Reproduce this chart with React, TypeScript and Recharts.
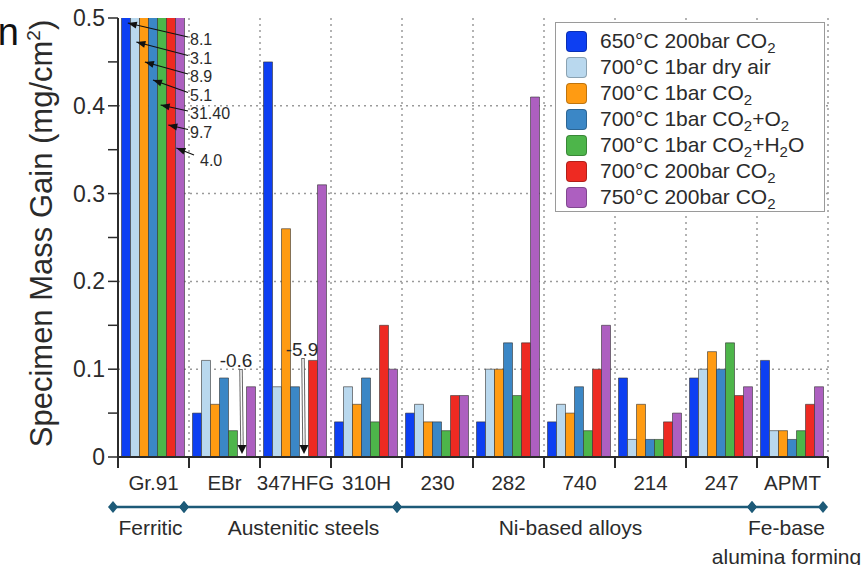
import React from "react";
import { BarChart, Bar, XAxis, YAxis, CartesianGrid, Legend } from "recharts";

const CATEGORIES = ["Gr.91", "EBr", "347HFG", "310H", "230", "282", "740", "214", "247", "APMT"];

const S650_200BAR_CO2 = [8.1, 0.05, 0.45, 0.04, 0.05, 0.04, 0.04, 0.09, 0.09, 0.11];
const S700_1BAR_AIR = [3.1, 0.11, 0.08, 0.08, 0.06, 0.1, 0.06, 0.02, 0.1, 0.03];
const S700_1BAR_CO2 = [8.9, 0.06, 0.26, 0.06, 0.04, 0.1, 0.05, 0.06, 0.12, 0.03];
const S700_1BAR_CO2_O2 = [5.1, 0.09, 0.08, 0.09, 0.04, 0.13, 0.08, 0.02, 0.1, 0.02];
const S700_1BAR_CO2_H2O = [31.4, 0.03, -5.9, 0.04, 0.03, 0.07, 0.03, 0.02, 0.13, 0.03];
const S700_200BAR_CO2 = [9.7, -0.6, 0.11, 0.15, 0.07, 0.13, 0.1, 0.04, 0.07, 0.06];
const S750_200BAR_CO2 = [4.0, 0.08, 0.31, 0.1, 0.07, 0.41, 0.15, 0.05, 0.08, 0.08];

// off-scale Gr.91 values as printed next to the arrows
const GR91_TEXT = ["8.1", "3.1", "8.9", "5.1", "31.40", "9.7", "4.0"];

const Y_TICKS = [0, 0.05, 0.1, 0.15, 0.2, 0.25, 0.3, 0.35, 0.4, 0.45, 0.5];
const Y_GRID = [0.1, 0.2, 0.3, 0.4];
const Y_MAX = 0.5;

const SERIES = [
  { key: "a", name: "650°C 200bar CO₂", color: "#0d3ff2", values: S650_200BAR_CO2 },
  { key: "b", name: "700°C 1bar dry air", color: "#b9d8ee", values: S700_1BAR_AIR },
  { key: "c", name: "700°C 1bar CO₂", color: "#ff9b12", values: S700_1BAR_CO2 },
  { key: "d", name: "700°C 1bar CO₂+O₂", color: "#3b87c6", values: S700_1BAR_CO2_O2 },
  { key: "e", name: "700°C 1bar CO₂+H₂O", color: "#4db54a", values: S700_1BAR_CO2_H2O },
  { key: "f", name: "700°C 200bar CO₂", color: "#ee2a22", values: S700_200BAR_CO2 },
  { key: "g", name: "750°C 200bar CO₂", color: "#ad5fc0", values: S750_200BAR_CO2 },
];

const GROUPS = [
  { lines: ["Ferritic"], from: 0, to: 1, dx: 2 },
  { lines: ["Austenitic steels"], from: 1, to: 4, dx: 13 },
  { lines: ["Ni-based alloys"], from: 4, to: 9, dx: -4 },
  { lines: ["Fe-base", "alumina forming"], from: 9, to: 10, dx: -1 },
];

const data = CATEGORIES.map((name, i) => {
  const row: Record<string, string | number> = { name };
  SERIES.forEach((s) => {
    row[s.key] = s.values[i];
  });
  return row;
});

const W = 862;
const H = 565;
const PLOT_LEFT = 118;
const PLOT_TOP = 18;
const PLOT_RIGHT = 828;
const PLOT_BOTTOM = 457;
const Y_AXIS_W = 60;
const X_AXIS_H = 40;
const BAND = (PLOT_RIGHT - PLOT_LEFT) / CATEGORIES.length;
const FONT = '"Liberation Sans", Arial, Helvetica, sans-serif';
const INK = "#2b2b2b";

// annotation layout for the Gr.91 arrows (tip heights, text rows)
const GR91_TIP_Y = [23, 42, 62, 80, 105, 125, 148];
const GR91_TEXT_Y = [39, 57.5, 76, 94.5, 113, 131.5, 160];
const GR91_TIP_DX = [0.2, 0.15, 0.1, 0, -0.15, -0.3, -0.4];
// negative (off-scale) values
const NEG_LAYOUT: Record<number, { dx: number; textY: number }> = {
  5: { dx: -6, textY: 360 },
  4: { dx: -2, textY: 349 },
};

const arrowHead = (x1: number, y1: number, x2: number, y2: number, len = 9, half = 3.5) => {
  const a = Math.atan2(y2 - y1, x2 - x1);
  const bx = x2 - len * Math.cos(a);
  const by = y2 - len * Math.sin(a);
  const px = -Math.sin(a) * half;
  const py = Math.cos(a) * half;
  return `${x2},${y2} ${bx + px},${by + py} ${bx - px},${by - py}`;
};

const renderSub = (text: string) =>
  text.split(/(₂)/).map((part, i) =>
    part === "₂" ? (
      <sub key={i} style={{ fontSize: 15, verticalAlign: -5, lineHeight: 0 }}>
        2
      </sub>
    ) : (
      <React.Fragment key={i}>{part}</React.Fragment>
    )
  );

const makeLabel = (si: number) => (props: any) => {
  const vb = props.viewBox || props;
  const x = Number(vb.x ?? props.x);
  const w = Number(vb.width ?? props.width);
  const value = Number(props.value);
  if (!Number.isFinite(x) || !Number.isFinite(w)) return null;
  const cx = x + w / 2;
  if (x < PLOT_LEFT + BAND && value > Y_MAX) {
    const tipX = cx + GR91_TIP_DX[si] * w;
    const tipY = GR91_TIP_Y[si];
    const last = si === SERIES.length - 1;
    const textX = last ? 200 : 190;
    const textY = GR91_TEXT_Y[si];
    const tailX = last ? 194 : 188;
    const tailY = last ? textY - 5 : textY - 2;
    return (
      <g>
        <line x1={tailX} y1={tailY} x2={tipX} y2={tipY} stroke="#111" strokeWidth={1.2} />
        <polygon points={arrowHead(tailX, tailY, tipX, tipY)} fill="#111" />
        <text x={textX} y={textY + 6} fontSize={16} fill={INK} fontFamily={FONT}>
          {GR91_TEXT[si]}
        </text>
      </g>
    );
  }
  if (value < 0 && NEG_LAYOUT[si]) {
    const { dx, textY } = NEG_LAYOUT[si];
    const tailY = textY + 9;
    const tipY = PLOT_BOTTOM - 3;
    return (
      <g>
        <text x={cx + dx} y={textY + 7} textAnchor="middle" fontSize={19} fill={INK} fontFamily={FONT}>
          {String(value)}
        </text>
        <line x1={cx - 1} y1={tailY} x2={cx} y2={tipY - 6} stroke="#666" strokeWidth={3.5} />
        <line x1={cx - 1} y1={tailY + 1} x2={cx} y2={tipY - 7} stroke="#fff" strokeWidth={1.5} />
        <polygon points={arrowHead(cx, tailY, cx, tipY, 9, 4.5)} fill="#111" />
      </g>
    );
  }
  return null;
};

const XTick = (props: any) => {
  const { x, payload, index } = props;
  const cx = Number(x);
  const left = cx - BAND / 2;
  return (
    <g>
      <line x1={left} x2={left} y1={PLOT_BOTTOM} y2={PLOT_BOTTOM + 11} stroke={INK} strokeWidth={2} />
      {index === CATEGORIES.length - 1 && (
        <line x1={left + BAND} x2={left + BAND} y1={PLOT_BOTTOM} y2={PLOT_BOTTOM + 11} stroke={INK} strokeWidth={2} />
      )}
      <text x={cx} y={PLOT_BOTTOM + 33} textAnchor="middle" fontSize={20.5} fill={INK} fontFamily={FONT}>
        {payload.value}
      </text>
    </g>
  );
};

const YTick = (props: any) => {
  const { x, y, payload } = props;
  const v = Number(payload.value);
  const major = Math.abs(v * 10 - Math.round(v * 10)) < 1e-6;
  if (!major) return <g />;
  return (
    <text x={x} y={Number(y) + 8} textAnchor="end" fontSize={23} fill={INK} fontFamily={FONT}>
      {v === 0 ? "0" : v.toFixed(1)}
    </text>
  );
};

const LegendBox = () => (
  <div
    style={{
      width: 270,
      height: 190,
      boxSizing: "border-box",
      border: "1.5px solid #9a9a9a",
      background: "#fff",
      padding: "5px 0 0 10px",
      fontFamily: FONT,
      fontSize: 21,
      color: INK,
    }}
  >
    {SERIES.map((s) => (
      <div key={s.key} style={{ display: "flex", alignItems: "center", height: 26, whiteSpace: "nowrap" }}>
        <span
          style={{
            display: "inline-block",
            width: 21,
            height: 21,
            borderRadius: 4,
            background: s.color,
            border: "1px solid rgba(0,0,0,0.25)",
            boxSizing: "border-box",
            marginRight: 13,
          }}
        />
        <span>{renderSub(s.name)}</span>
      </div>
    ))}
  </div>
);

export default function App() {
  return (
    <div style={{ position: "absolute", left: 0, top: 0, width: W, height: H, background: "#fff" }}>
      <BarChart
        width={W}
        height={H}
        data={data}
        margin={{ top: PLOT_TOP, right: W - PLOT_RIGHT, bottom: H - PLOT_BOTTOM - X_AXIS_H, left: PLOT_LEFT - Y_AXIS_W }}
        barCategoryGap={3.5}
        barGap={0}
      >
        <CartesianGrid
          stroke="#9a9a9a"
          strokeWidth={1.5}
          strokeDasharray="2 4"
          horizontalCoordinatesGenerator={({ offset }: any) =>
            Y_GRID.map((v) => offset.top + offset.height * (1 - v / Y_MAX))
          }
          verticalCoordinatesGenerator={({ offset }: any) =>
            [...CATEGORIES.map((_, i) => i), CATEGORIES.length].map(
              (i) => offset.left + (i * offset.width) / CATEGORIES.length
            )
          }
        />
        <XAxis
          dataKey="name"
          height={X_AXIS_H}
          interval={0}
          axisLine={{ stroke: INK, strokeWidth: 2 }}
          tickLine={false}
          tick={<XTick />}
        />
        <XAxis xAxisId="top" dataKey="name" orientation="top" height={0} tick={false} tickLine={false} axisLine={{ stroke: INK, strokeWidth: 2.5 }} />
        <YAxis
          width={Y_AXIS_W}
          domain={[0, Y_MAX]}
          ticks={Y_TICKS}
          allowDataOverflow
          interval={0}
          axisLine={{ stroke: INK, strokeWidth: 2 }}
          tickLine={{ stroke: INK, strokeWidth: 1.5 }}
          tickSize={10}
          tickMargin={3}
          tick={<YTick />}
        />
        <YAxis yAxisId="right" orientation="right" width={0} domain={[0, Y_MAX]} tick={false} tickLine={false} axisLine={{ stroke: INK, strokeWidth: 2.5 }} />
        <Legend
          layout="horizontal"
          verticalAlign="middle"
          align="center"
          content={() => <LegendBox />}
          wrapperStyle={{ position: "absolute", left: 555, top: 22, width: 270, height: 190 }}
        />
        {SERIES.map((s, si) => (
          <Bar
            key={s.key}
            dataKey={s.key}
            name={s.name}
            fill={s.color}
            stroke="#333"
            strokeWidth={0.6}
            isAnimationActive={false}
            label={makeLabel(si)}
          />
        ))}
      </BarChart>
      <svg width={W} height={H} style={{ position: "absolute", left: 0, top: 0, pointerEvents: "none" }}>
        <text x={19} y={45} textAnchor="end" fontSize={38} fill="#111" fontFamily={FONT}>
          n
        </text>
        <text
          transform={`translate(52, ${(PLOT_TOP + PLOT_BOTTOM) / 2 - 4}) rotate(-90)`}
          textAnchor="middle"
          fontSize={31}
          fill={INK}
          fontFamily={FONT}
        >
          Specimen Mass Gain (mg/cm
          <tspan fontSize={19} dy={-12}>
            2
          </tspan>
          <tspan dy={12}>)</tspan>
        </text>
        {GROUPS.map((g) => {
          const x1 = PLOT_LEFT + g.from * BAND - 5;
          const x2 = PLOT_LEFT + g.to * BAND - 5;
          const mid = (x1 + x2) / 2 + g.dx;
          return (
            <g key={g.lines[0]}>
              <line x1={x1} x2={x2} y1={507} y2={507} stroke="#1d5a78" strokeWidth={2.5} />
              {[x1, x2].map((dx) => (
                <polygon key={dx} points={`${dx},${501} ${dx + 5},${507} ${dx},${513} ${dx - 5},${507}`} fill="#1d5a78" />
              ))}
              {g.lines.map((ln, li) => (
                <text key={ln} x={mid} y={535 + li * 29} textAnchor="middle" fontSize={21} fill={INK} fontFamily={FONT}>
                  {ln}
                </text>
              ))}
            </g>
          );
        })}
      </svg>
    </div>
  );
}
